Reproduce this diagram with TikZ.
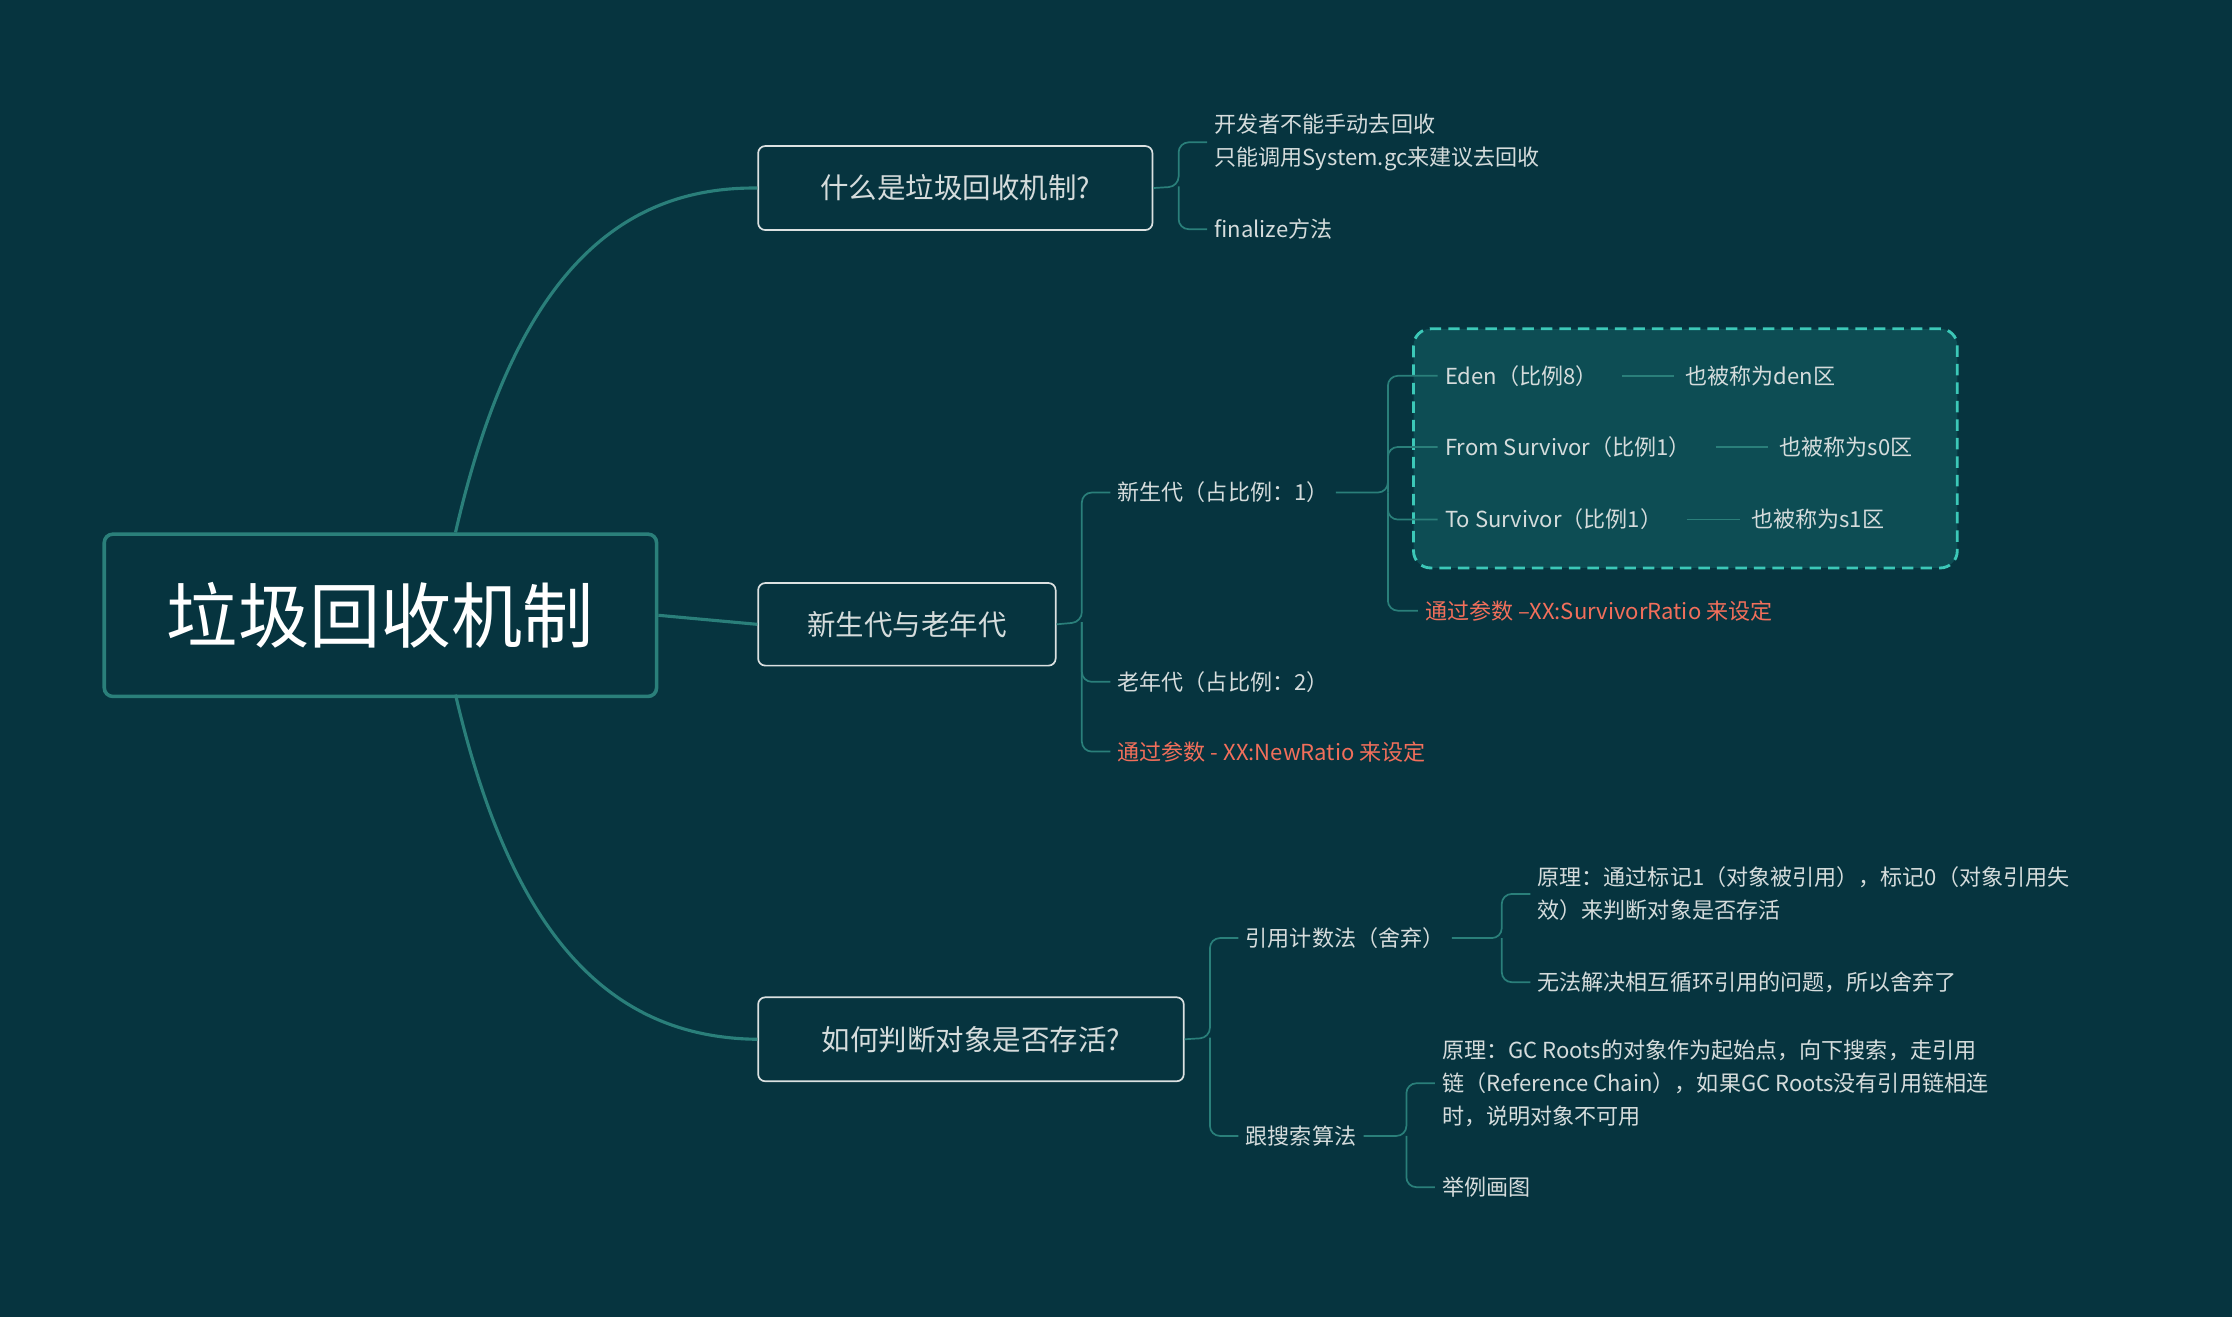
\documentclass[tikz,border=0pt]{standalone}
\usepackage{fontspec}
\setmainfont{Noto Sans CJK SC}
\usetikzlibrary{calc}
\definecolor{bg}{HTML}{06343F}
\definecolor{ln}{HTML}{2A7F7A}
\definecolor{tx}{HTML}{D5DCDC}
\definecolor{rd}{HTML}{F26F5B}
\definecolor{dbox}{HTML}{0D4D54}
\definecolor{dbd}{HTML}{3CC8B8}
\tikzset{
 leaf/.style={anchor=west,inner xsep=5pt,inner ysep=1pt,text=tx,font=\fontsize{15.5}{23}\selectfont,align=left},
 redleaf/.style={leaf,text=rd},
 branch/.style={draw=tx!85,line width=1.2pt,rounded corners=5pt,text=tx,font=\fontsize{20}{24}\selectfont,inner sep=0pt,anchor=north west},
 con/.style={draw=ln,line width=1.2pt,rounded corners=7pt},
}
\begin{document}
\begin{tikzpicture}[x=1pt,y=-1pt]
\fill[bg] (0,0) rectangle (1568,925);
\useasboundingbox (0,0) rectangle (1568,925);
% root
\node[draw=ln,line width=2.5pt,rounded corners=6pt,minimum width=388pt,minimum height=114pt,anchor=north west,text=white,font=\fontsize{50}{56}\selectfont] (root) at (72,374) {垃圾回收机制};
\node[branch,minimum width=277pt,minimum height=59pt] (b1) at (532,102) {什么是垃圾回收机制?};
\node[branch,minimum width=209pt,minimum height=58pt] (b2) at (532,409) {新生代与老年代};
\node[branch,minimum width=299pt,minimum height=59pt] (b3) at (532,700) {如何判断对象是否存活?};
\coordinate (rt) at (320,374); \coordinate (rb) at (320,488);
\draw[ln,line width=2.2pt] (rt) .. controls (360,200) and (430,131) .. (b1.west);
\draw[ln,line width=2.2pt] (root.east) -- (b2.west);
\draw[ln,line width=2.2pt] (rb) .. controls (360,660) and (430,729) .. (b3.west);
% branch 1
\node[leaf] (l11) at (848,100) {开发者不能手动去回收\\只能调用System.gc来建议去回收};
\node[leaf] (l12) at (848,161) {finalize方法};
\coordinate (j1) at (828,131);
\draw[con] (b1.east) -- (j1) |- (l11.west);
\draw[con] (j1) |- (l12.west);
% dashed box
\draw[dbd,fill=dbox,line width=2pt,dashed,dash pattern=on 8pt off 5pt,rounded corners=12pt] (993,231) rectangle (1375,399);
% branch 2
\node[leaf] (l21) at (780,346) {新生代（占比例：1）};
\node[leaf] (l22) at (780,479) {老年代（占比例：2）};
\node[redleaf] (l23) at (780,528) {通过参数 - XX:NewRatio 来设定};
\coordinate (j2) at (760,437);
\draw[con] (b2.east) -- (j2) |- (l21.west);
\draw[con] (j2) |- (l22.west);
\draw[con] (j2) |- (l23.west);
\node[leaf] (e1) at (1010,264) {Eden（比例8）};
\node[leaf] (e2) at (1010,314) {From Survivor（比例1）};
\node[leaf] (e3) at (1010,365) {To Survivor（比例1）};
\node[redleaf] (e4) at (996,429) {通过参数 –XX:SurvivorRatio 来设定};
\node[leaf] (f1) at (1179,264) {也被称为den区};
\node[leaf] (f2) at (1245,314) {也被称为s0区};
\node[leaf] (f3) at (1225,365) {也被称为s1区};
\coordinate (j3) at (975,346);
\draw[con] (l21.east) -- (j3) |- (e1.west);
\draw[con] (j3) |- (e2.west);
\draw[con] (j3) |- (e3.west);
\draw[con] (j3) |- (e4.west);
\draw[ln,line width=1.2pt] ([xshift=12pt]e1.east) -- ([xshift=-3pt]f1.west);
\draw[ln,line width=1.2pt] ([xshift=12pt]e2.east) -- ([xshift=-3pt]f2.west);
\draw[ln,line width=1.2pt] ([xshift=12pt]e3.east) -- ([xshift=-3pt]f3.west);
% branch 3
\node[leaf] (l31) at (870,659) {引用计数法（舍弃）};
\node[leaf] (l32) at (870,798) {跟搜索算法};
\coordinate (j4) at (850,729);
\draw[con] (b3.east) -- (j4) |- (l31.west);
\draw[con] (j4) |- (l32.west);
\node[leaf] (g1) at (1075,628) {原理：通过标记1（对象被引用），标记0（对象引用失\\效）来判断对象是否存活};
\node[leaf] (g2) at (1075,690) {无法解决相互循环引用的问题，所以舍弃了};
\coordinate (j5) at (1055,659);
\draw[con] (l31.east) -- (j5) |- (g1.west);
\draw[con] (j5) |- (g2.west);
\node[leaf] (h1) at (1008,761) {原理：GC Roots的对象作为起始点，向下搜索，走引用\\链（Reference Chain），如果GC Roots没有引用链相连\\时，说明对象不可用};
\node[leaf] (h2) at (1008,834) {举例画图};
\coordinate (j6) at (988,798);
\draw[con] (l32.east) -- (j6) |- (h1.west);
\draw[con] (j6) |- (h2.west);
\end{tikzpicture}
\end{document}
